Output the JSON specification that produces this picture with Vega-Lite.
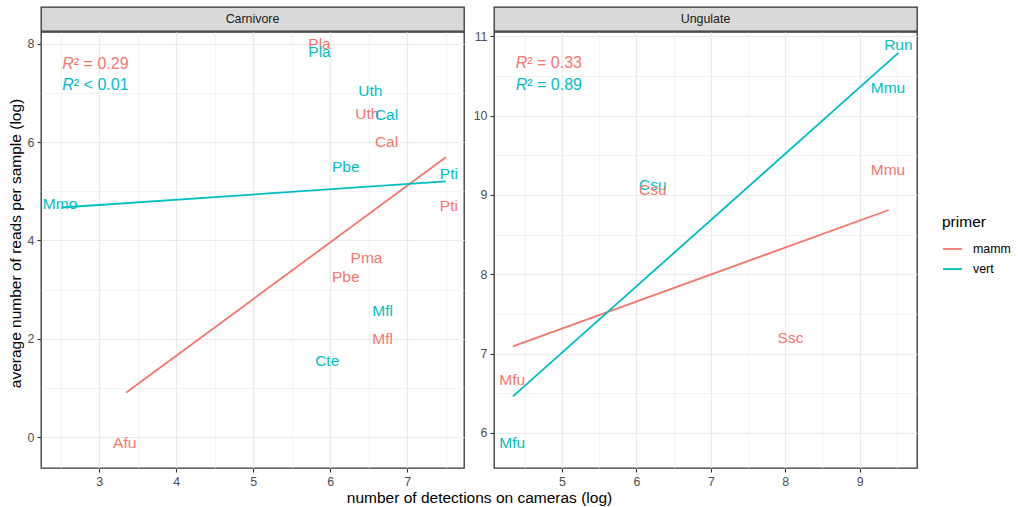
{
  "$schema": "https://vega.github.io/schema/vega-lite/v6.json",
  "background": "white",
  "padding": {"left": 7, "top": 6, "right": 5, "bottom": 5},
  "datasets": {
    "labels": [
      {"group": "Carnivore", "primer": "mamm", "species": "Pla", "x": 5.86, "y": 7.99},
      {"group": "Carnivore", "primer": "vert", "species": "Pla", "x": 5.86, "y": 7.84},
      {"group": "Carnivore", "primer": "vert", "species": "Uth", "x": 6.52, "y": 7.04},
      {"group": "Carnivore", "primer": "mamm", "species": "Uth", "x": 6.48, "y": 6.58},
      {"group": "Carnivore", "primer": "vert", "species": "Cal", "x": 6.73, "y": 6.55},
      {"group": "Carnivore", "primer": "mamm", "species": "Cal", "x": 6.73, "y": 6.01},
      {"group": "Carnivore", "primer": "vert", "species": "Pbe", "x": 6.2, "y": 5.5},
      {"group": "Carnivore", "primer": "vert", "species": "Pti", "x": 7.54, "y": 5.35},
      {"group": "Carnivore", "primer": "mamm", "species": "Pti", "x": 7.54, "y": 4.7},
      {"group": "Carnivore", "primer": "vert", "species": "Mmo", "x": 2.49, "y": 4.75},
      {"group": "Carnivore", "primer": "mamm", "species": "Pma", "x": 6.47, "y": 3.64},
      {"group": "Carnivore", "primer": "mamm", "species": "Pbe", "x": 6.2, "y": 3.26},
      {"group": "Carnivore", "primer": "vert", "species": "Mfl", "x": 6.68, "y": 2.56},
      {"group": "Carnivore", "primer": "mamm", "species": "Mfl", "x": 6.68, "y": 2.0},
      {"group": "Carnivore", "primer": "vert", "species": "Cte", "x": 5.96, "y": 1.54},
      {"group": "Carnivore", "primer": "mamm", "species": "Afu", "x": 3.33, "y": -0.12},
      {"group": "Ungulate", "primer": "vert", "species": "Run", "x": 9.52, "y": 10.89},
      {"group": "Ungulate", "primer": "vert", "species": "Mmu", "x": 9.38, "y": 10.35},
      {"group": "Ungulate", "primer": "mamm", "species": "Mmu", "x": 9.38, "y": 9.32},
      {"group": "Ungulate", "primer": "vert", "species": "Csu", "x": 6.22, "y": 9.13},
      {"group": "Ungulate", "primer": "mamm", "species": "Csu", "x": 6.22, "y": 9.06},
      {"group": "Ungulate", "primer": "mamm", "species": "Ssc", "x": 8.07, "y": 7.2},
      {"group": "Ungulate", "primer": "mamm", "species": "Mfu", "x": 4.33, "y": 6.67},
      {"group": "Ungulate", "primer": "vert", "species": "Mfu", "x": 4.33, "y": 5.87}
    ],
    "lines": [
      {"group": "Carnivore", "primer": "mamm", "x": 3.35, "y": 0.91},
      {"group": "Carnivore", "primer": "mamm", "x": 7.5, "y": 5.69},
      {"group": "Carnivore", "primer": "vert", "x": 2.51, "y": 4.67},
      {"group": "Carnivore", "primer": "vert", "x": 7.5, "y": 5.2},
      {"group": "Ungulate", "primer": "mamm", "x": 4.34, "y": 7.09},
      {"group": "Ungulate", "primer": "mamm", "x": 9.39, "y": 8.81},
      {"group": "Ungulate", "primer": "vert", "x": 4.34, "y": 6.46},
      {"group": "Ungulate", "primer": "vert", "x": 9.52, "y": 10.79}
    ],
    "r2": [
      {"group": "Carnivore", "primer": "mamm", "x": 2.52, "y": 7.58, "rest": "² = 0.29"},
      {"group": "Carnivore", "primer": "vert", "x": 2.52, "y": 7.16, "rest": "² < 0.01"},
      {"group": "Ungulate", "primer": "mamm", "x": 4.378, "y": 10.668, "rest": "² = 0.33"},
      {"group": "Ungulate", "primer": "vert", "x": 4.378, "y": 10.39, "rest": "² = 0.89"}
    ],
    "strips": [
      {"strip": "Carnivore"},
      {"strip": "Ungulate"}
    ]
  },
  "vconcat": [
    {
      "hconcat": [
        {
          "width": 423,
          "height": 24,
          "view": {"fill": "#D9D9D9", "stroke": "#333333", "strokeWidth": 1.3},
          "data": {"name": "strips"},
          "transform": [{"filter": "datum.strip === 'Carnivore'"}],
          "mark": {"type": "text", "fontSize": 12.4, "color": "#1A1A1A", "baseline": "middle", "align": "center"},
          "encoding": {"text": {"field": "strip"}}
        },
        {
          "width": 423,
          "height": 24,
          "view": {"fill": "#D9D9D9", "stroke": "#333333", "strokeWidth": 1.3},
          "data": {"name": "strips"},
          "transform": [{"filter": "datum.strip === 'Ungulate'"}],
          "mark": {"type": "text", "fontSize": 12.4, "color": "#1A1A1A", "baseline": "middle", "align": "center"},
          "encoding": {"text": {"field": "strip"}}
        }
      ],
      "spacing": 30,
      "bounds": "flush"
    },
    {
      "hconcat": [
        {
          "width": 423,
          "height": 436,
          "encoding": {
            "x": {
              "field": "x", "type": "quantitative",
              "scale": {"domain": [2.243, 7.736], "nice": false, "zero": false},
              "axis": {
                "title": "number of detections on cameras (log)",
                "values": [2.5, 3, 3.5, 4, 4.5, 5, 5.5, 6, 6.5, 7, 7.5],
                "labelExpr": "datum.value % 1 === 0 ? format(datum.value, 'd') : ''",
                "gridWidth": {"condition": {"test": "datum.value % 1 !== 0", "value": 0.6}, "value": 1.2},
                "tickOpacity": {"condition": {"test": "datum.value % 1 !== 0", "value": 0}, "value": 1},
                "titleX": 438, "titleY": 29, "titleAlign": "center", "titleBaseline": "middle"
              }
            },
            "y": {
              "field": "y", "type": "quantitative",
              "scale": {"domain": [-0.625, 8.238], "nice": false, "zero": false},
              "axis": {
                "title": "average number of reads per sample (log)",
                "values": [0, 1, 2, 3, 4, 5, 6, 7, 8],
                "labelExpr": "datum.value % 2 === 0 ? format(datum.value, 'd') : ''",
                "gridWidth": {"condition": {"test": "datum.value % 2 !== 0", "value": 0.6}, "value": 1.2},
                "tickOpacity": {"condition": {"test": "datum.value % 2 !== 0", "value": 0}, "value": 1},
                "titleX": -26, "titleY": 211, "titleAlign": "center", "titleBaseline": "middle", "titleAngle": -90
              }
            }
          },
          "layer": [
            {
              "data": {"name": "labels"},
              "transform": [{"filter": "datum.group === 'Carnivore'"}],
              "mark": {"type": "text", "fontSize": 15.5, "baseline": "middle", "align": "center"},
              "encoding": {
                "text": {"field": "species"},
                "color": {"field": "primer", "type": "nominal", "scale": {"range": ["#F8766D", "#00BFC4"]}, "legend": null}
              }
            },
            {
              "data": {"name": "lines"},
              "transform": [{"filter": "datum.group === 'Carnivore'"}],
              "mark": {"type": "line", "strokeWidth": 1.8},
              "encoding": {
                "stroke": {
                  "field": "primer", "type": "nominal",
                  "scale": {"domain": ["mamm", "vert"], "range": ["#F8766D", "#00BFC4"]},
                  "legend": {
                    "title": "primer",
                    "orient": "none",
                    "legendX": 901,
                    "legendY": 208,
                    "padding": 0,
                    "symbolType": "stroke",
                    "symbolSize": 361,
                    "symbolStrokeWidth": 1.8,
                    "labelFontSize": 12.4,
                    "labelColor": "#000000",
                    "labelOffset": 10,
                    "rowPadding": 3,
                    "titleFontSize": 15.5,
                    "titleFontWeight": "normal",
                    "titleColor": "#000000",
                    "titlePadding": 8
                  }
                }
              }
            },
            {
              "data": {"name": "r2"},
              "transform": [{"filter": "datum.group === 'Carnivore'"}],
              "mark": {"type": "text", "text": "R", "fontStyle": "italic", "fontSize": 16, "baseline": "middle", "align": "left"},
              "encoding": {
                "color": {"field": "primer", "type": "nominal", "legend": null}
              }
            },
            {
              "data": {"name": "r2"},
              "transform": [{"filter": "datum.group === 'Carnivore'"}],
              "mark": {"type": "text", "fontSize": 16, "baseline": "middle", "align": "left", "dx": 11.5},
              "encoding": {
                "text": {"field": "rest"},
                "color": {"field": "primer", "type": "nominal", "legend": null}
              }
            }
          ]
        },
        {
          "width": 423,
          "height": 436,
          "encoding": {
            "x": {
              "field": "x", "type": "quantitative",
              "scale": {"domain": [4.086, 9.77], "nice": false, "zero": false},
              "axis": {
                "title": null,
                "values": [4.5, 5, 5.5, 6, 6.5, 7, 7.5, 8, 8.5, 9, 9.5],
                "labelExpr": "datum.value % 1 === 0 ? format(datum.value, 'd') : ''",
                "gridWidth": {"condition": {"test": "datum.value % 1 !== 0", "value": 0.6}, "value": 1.2},
                "tickOpacity": {"condition": {"test": "datum.value % 1 !== 0", "value": 0}, "value": 1}
              }
            },
            "y": {
              "field": "y", "type": "quantitative",
              "scale": {"domain": [5.558, 11.054], "nice": false, "zero": false},
              "axis": {
                "title": null,
                "values": [6, 6.5, 7, 7.5, 8, 8.5, 9, 9.5, 10, 10.5, 11],
                "labelExpr": "datum.value % 1 === 0 ? format(datum.value, 'd') : ''",
                "gridWidth": {"condition": {"test": "datum.value % 1 !== 0", "value": 0.6}, "value": 1.2},
                "tickOpacity": {"condition": {"test": "datum.value % 1 !== 0", "value": 0}, "value": 1}
              }
            }
          },
          "layer": [
            {
              "data": {"name": "labels"},
              "transform": [{"filter": "datum.group === 'Ungulate'"}],
              "mark": {"type": "text", "fontSize": 15.5, "baseline": "middle", "align": "center"},
              "encoding": {
                "text": {"field": "species"},
                "color": {"field": "primer", "type": "nominal", "legend": null}
              }
            },
            {
              "data": {"name": "lines"},
              "transform": [{"filter": "datum.group === 'Ungulate'"}],
              "mark": {"type": "line", "strokeWidth": 1.8},
              "encoding": {
                "stroke": {"field": "primer", "type": "nominal"}
              }
            },
            {
              "data": {"name": "r2"},
              "transform": [{"filter": "datum.group === 'Ungulate'"}],
              "mark": {"type": "text", "text": "R", "fontStyle": "italic", "fontSize": 16, "baseline": "middle", "align": "left"},
              "encoding": {
                "color": {"field": "primer", "type": "nominal", "legend": null}
              }
            },
            {
              "data": {"name": "r2"},
              "transform": [{"filter": "datum.group === 'Ungulate'"}],
              "mark": {"type": "text", "fontSize": 16, "baseline": "middle", "align": "left", "dx": 11.5},
              "encoding": {
                "text": {"field": "rest"},
                "color": {"field": "primer", "type": "nominal", "legend": null}
              }
            }
          ]
        }
      ],
      "spacing": 30,
      "bounds": "flush"
    }
  ],
  "spacing": -8,
  "resolve": {"scale": {"color": "shared", "stroke": "shared"}},
  "config": {
    "font": "Liberation Sans",
    "view": {"stroke": "#333333", "strokeWidth": 1.3},
    "axis": {
      "domain": false,
      "grid": true,
      "gridColor": "#EBEBEB",
      "tickColor": "#333333",
      "tickSize": 4,
      "tickWidth": 1.1,
      "labelColor": "#4D4D4D",
      "labelFontSize": 12.4,
      "labelPadding": 3,
      "labelOverlap": false,
      "labelFlush": false,
      "titleFontSize": 15.5,
      "titleFontWeight": "normal",
      "titleColor": "#000000"
    }
  }
}
